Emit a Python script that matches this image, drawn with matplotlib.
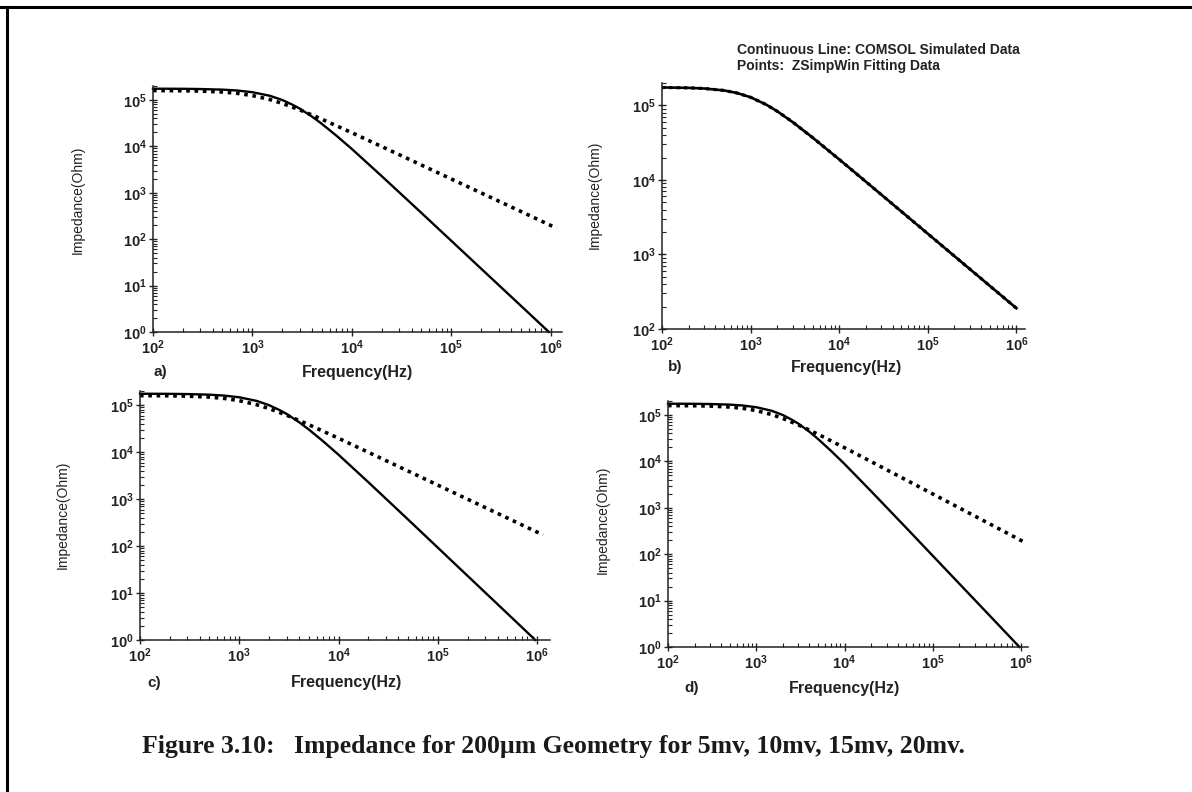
import numpy as np
import matplotlib.pyplot as plt
from matplotlib.lines import Line2D
from matplotlib.ticker import LogLocator, FuncFormatter, NullFormatter

plt.rcParams['font.family'] = ['Liberation Sans', 'DejaVu Sans']
plt.rcParams['mathtext.fontset'] = 'custom'
plt.rcParams['mathtext.rm'] = 'Liberation Sans:bold'
plt.rcParams['mathtext.bf'] = 'Liberation Sans:bold'

# COMSOL simulated impedance (continuous line), panels a, c, d
freq_sim = [100, 200, 300, 500, 700, 1000, 1500, 2000, 2500, 3000, 4000, 5000,
            7000, 1e4, 2e4, 5e4, 1e5, 2e5, 5e5, 9.6e5]
z_sim = [1.75e5, 1.74e5, 1.72e5, 1.67e5, 1.60e5, 1.47e5, 1.23e5, 9.97e4, 8.0e4,
         6.5e4, 4.35e4, 3.05e4, 1.7e4, 8.8e3, 2.28e3, 370, 92.5, 23.1, 3.7, 1.0]

# ZSimpWin fitted impedance (points), panels a, c, d
freq_fit = [100, 200, 300, 500, 700, 1000, 1500, 2000, 3000, 5000, 1e4, 2e4,
            5e4, 1e5, 2e5, 5e5, 1e6, 1.15e6]
z_fit = [1.595e5, 1.58e5, 1.555e5, 1.484e5, 1.393e5, 1.245e5, 1.02e5, 8.43e4,
         6.11e4, 3.85e4, 1.97e4, 9.9e3, 3.97e3, 1.985e3, 992, 397, 198, 175]

# panel b: simulated and fitted curves coincide
freq_b = [100, 200, 300, 500, 700, 1000, 1500, 2000, 3000, 5000, 1e4, 2e4,
          5e4, 1e5, 2e5, 5e5, 1e6]
z_sim_b = [1.743e5, 1.721e5, 1.687e5, 1.59e5, 1.47e5, 1.287e5, 1.026e5, 8.34e4,
           5.95e4, 3.71e4, 1.888e4, 9.48e3, 3.797e3, 1.899e3, 949, 380, 190]
z_fit_b = [1.743e5, 1.721e5, 1.687e5, 1.59e5, 1.47e5, 1.287e5, 1.026e5, 8.34e4,
           5.95e4, 3.71e4, 1.888e4, 9.48e3, 3.797e3, 1.899e3, 949, 380, 190]

panel_tags = ['a)', 'b)', 'c)', 'd)']

W, H = 1192, 792
fig = plt.figure(figsize=(W / 100, H / 100), dpi=100)


def px(x, y):
    return x / W, 1 - y / H


def make_axes(left, top, right, bottom, xmax, ymin):
    ax = fig.add_axes([left / W, 1 - bottom / H, (right - left) / W, (bottom - top) / H])
    ax.set_xscale('log')
    ax.set_yscale('log')
    ax.set_xlim(100, xmax)
    ax.set_ylim(ymin, 2e5)
    for s in ['top', 'right']:
        ax.spines[s].set_visible(False)
    for s in ['left', 'bottom']:
        ax.spines[s].set_linewidth(1.1)
        ax.spines[s].set_color('#222222')
    fmt = FuncFormatter(lambda v, p: r'$\mathbf{10^{%d}}$' % round(np.log10(v)))
    for axis in [ax.xaxis, ax.yaxis]:
        axis.set_major_locator(LogLocator(base=10, numticks=12))
        axis.set_minor_locator(LogLocator(base=10, subs=np.arange(2, 10), numticks=12))
        axis.set_major_formatter(fmt)
        axis.set_minor_formatter(NullFormatter())
    ax.tick_params(which='major', direction='inout', length=6, width=1.0,
                   labelsize=10.5, colors='#222222', pad=1.5)
    ax.tick_params(which='minor', direction='in', length=3, width=0.8, colors='#222222')
    ax.set_facecolor('none')
    return ax


ax_a = make_axes(153, 86, 562, 332, 1.3e6, 1)
ax_b = make_axes(662, 83, 1025, 329, 1.25e6, 100)
ax_c = make_axes(140, 391, 550, 640, 1.35e6, 1)
ax_d = make_axes(668, 401, 1028, 647, 1.2e6, 1)

dots = dict(color='black', lw=2.6, linestyle=(0, (1, 1.3)), dash_capstyle='butt')
for ax in [ax_a, ax_c, ax_d]:
    ax.plot(freq_sim, z_sim, color='black', lw=1.7, clip_on=False)
    ax.plot(freq_fit, z_fit, **dots)
ax_b.plot(freq_b, z_sim_b, color='black', lw=1.9)
ax_b.plot(freq_b, z_fit_b, color='black', lw=2.3, linestyle=(0, (1, 1.3)))

# axis titles and panel tags
xlab = [(357, 372), (847, 367), (347, 683), (845, 688)]
tags = [(153, 372), (668, 367), (147, 683), (684, 688)]
ylab = [(78, 200), (595, 195), (63, 515), (603, 520)]
for i in range(4):
    fig.text(*px(*xlab[i]), 'Frequency(Hz)', ha='center', va='center',
             fontsize=11.5, fontweight='bold', color='#222222')
    fig.text(*px(*tags[i]), panel_tags[i], ha='left', va='center',
             fontsize=11, fontweight='bold', color='#222222')
    fig.text(*px(*ylab[i]), 'Impedance(Ohm)', ha='center', va='center',
             rotation=90, fontsize=10, color='#222222')

fig.text(*px(737, 50), 'Continuous Line: COMSOL Simulated Data', ha='left',
         va='center', fontsize=10, fontweight='bold', color='#222222')
fig.text(*px(737, 66), 'Points:  ZSimpWin Fitting Data', ha='left',
         va='center', fontsize=10, fontweight='bold', color='#222222')

fig.text(*px(553, 747), 'Figure 3.10:   Impedance for 200µm Geometry for 5mv, 10mv, 15mv, 20mv.',
         ha='center', va='center', fontsize=18.5, fontweight='bold',
         family=['Liberation Serif', 'DejaVu Serif'], color='#1a1a1a')

# page frame
fig.add_artist(Line2D([0, 1], [1 - 7 / H, 1 - 7 / H], color='black', lw=2.2))
fig.add_artist(Line2D([7 / W, 7 / W], [0, 1 - 7 / H], color='black', lw=2.2))

fig.savefig('out.png', dpi=100)
